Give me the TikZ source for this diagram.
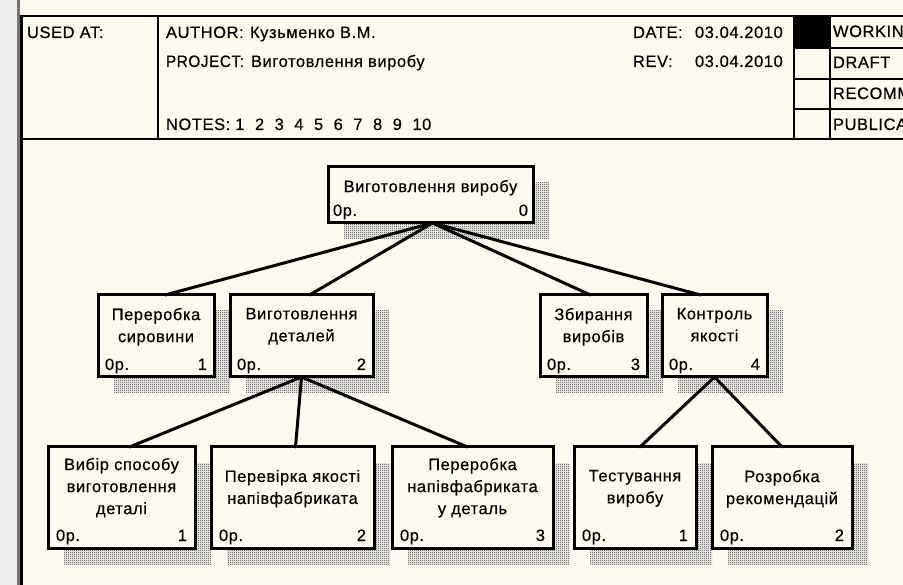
\documentclass[tikz,border=0pt]{standalone}
\usepackage{fontspec}
\setmainfont{Liberation Sans}[LetterSpace=3.5, FakeBold=0.4]
\usetikzlibrary{patterns}

\definecolor{paper}{RGB}{255,250,240}
\definecolor{leftgray}{RGB}{238,238,238}
\definecolor{edgegray}{RGB}{115,115,115}
\definecolor{shadegray}{RGB}{50,50,50}

% fine checkered dither used for the drop shadows
\pgfdeclarepatternformonly{dither}{\pgfqpoint{0pt}{0pt}}{\pgfqpoint{2pt}{2pt}}{\pgfqpoint{2pt}{2pt}}{%
  \pgfpathrectangle{\pgfqpoint{0pt}{0pt}}{\pgfqpoint{1pt}{1pt}}%
  \pgfpathrectangle{\pgfqpoint{1pt}{1pt}}{\pgfqpoint{1pt}{1pt}}%
  \pgfusepath{fill}}

\tikzset{
  actnode/.style={rectangle, draw=black, line width=3pt, fill=paper, inner sep=0pt, outer sep=0pt},
  lbl/.style={inner sep=0pt, outer sep=0pt, text=black, font=\fontsize{16.5}{22}\selectfont},
  link/.style={line width=3pt, line cap=round},
  frame/.style={line width=2pt},
  shadowfill/.style={pattern=dither, pattern color=shadegray},
}

% narrower setting for wide capital labels
\newcommand\narrowcaps[1]{\scalebox{0.93}[1]{#1}}

% #1 name, #2-#5 corners (x1,y1,x2,y2), #6 top of first text line,
% #7 activity name, #8 node number, #9 inset of the corner labels
\newcommand\actbox[9]{%
  \fill[shadowfill] (#2+16,#3+16) rectangle (#4+16,#5+16);
  \node[actnode, minimum width={#4-#2}, minimum height={#5-#3}] (#1) at ({(#2+#4)/2},{(#3+#5)/2}) {};
  \node[lbl, anchor=north, align=center] (#1-name) at ({(#2+#4)/2},#6) {#7};
  \node[lbl, anchor=base west] (#1-cost) at (#2+#9,#5-7) {0р.};
  \node[lbl, anchor=base east] (#1-num) at (#4-#9,#5-7) {#8};
}

\begin{document}
\begin{tikzpicture}[x=1pt,y=-1pt]
\useasboundingbox (0,0) rectangle (903,585);
\clip (0,0) rectangle (903,585);
\fill[paper] (0,0) rectangle (903,585);

% window edge on the left
\fill[leftgray] (0,0) rectangle (17,585);
\fill[edgegray] (17,0) rectangle (20,585);
\draw[line width=2.5pt] (21.25,15) -- (21.25,585);

% title block
\draw[frame] (21,16) -- (910,16);
\draw[frame] (21,139) -- (910,139);
\draw[frame] (158,16) -- (158,139);
\fill[black] (794,16) rectangle (830,48);
\draw[frame] (794,16) -- (794,139);
\draw[frame] (830,16) -- (830,139);
\draw[frame] (794,48) -- (910,48);
\draw[frame] (794,79) -- (910,79);
\draw[frame] (794,109) -- (910,109);

\node[lbl, anchor=base west] (usedat) at (27,38) {USED AT:};
\node[lbl, anchor=base west] (author) at (166,38) {AUTHOR:};
\node[lbl, anchor=base west] (authorval) at (250,38) {Кузьменко В.М.};
\node[lbl, anchor=base west] (project) at (166,67) {\narrowcaps{PROJECT:}};
\node[lbl, anchor=base west] (projectval) at (251,67) {Виготовлення виробу};
\node[lbl, anchor=base west] (notes) at (166,130) {\spaceskip=10.5pt NOTES:\hspace{5pt}1 2 3 4 5 6 7 8 9 10};
\node[lbl, anchor=base west] (date) at (633,38) {DATE:};
\node[lbl, anchor=base west] (dateval) at (695,38) {03.04.2010};
\node[lbl, anchor=base west] (rev) at (633,67) {REV:};
\node[lbl, anchor=base west] (revval) at (695,67) {03.04.2010};
\node[lbl, anchor=base west] (working) at (833,37) {WORKING};
\node[lbl, anchor=base west] (draft) at (833,68) {DRAFT};
\node[lbl, anchor=base west] (recomm) at (833,99) {RECOMMENDED};
\node[lbl, anchor=base west] (public) at (833,130) {PUBLICATION};

% activity boxes
\actbox{top}{328}{167}{533}{223}{180}{Виготовлення виробу}{0}{5}
\actbox{c1}{98}{295}{214}{377}{308}{Переробка\\сировини}{1}{7}
\actbox{c2}{230}{295}{373}{377}{308}{Виготовлення\\деталей}{2}{7}
\actbox{c3}{540}{295}{647}{377}{308}{Збирання\\виробів}{3}{7}
\actbox{c4}{662}{295}{767}{377}{308}{Контроль\\якості}{4}{7}
\actbox{d1}{48}{447}{195}{548}{458}{Вибір способу\\виготовлення\\деталі}{1}{8}
\actbox{d2}{211}{447}{374}{548}{470}{Перевірка якості\\напівфабриката}{2}{8}
\actbox{d3}{392}{447}{553}{548}{458}{Переробка\\напівфабриката\\у деталь}{3}{8}
\actbox{d4}{574}{447}{696}{548}{470}{Тестування\\виробу}{1}{8}
\actbox{d5}{712}{447}{852}{548}{470}{Розробка\\рекомендацій}{2}{8}

% decomposition links
\draw[link] ([xshift=2]top.south) -- ([xshift=9]c1.north);
\draw[link] ([xshift=2]top.south) -- ([xshift=8]c2.north);
\draw[link] ([xshift=2]top.south) -- ([xshift=-3]c3.north);
\draw[link] ([xshift=2]top.south) -- ([xshift=-14]c4.north);
\draw[link] (c2.south) -- ([xshift=8]d1.north);
\draw[link] (c2.south) -- ([xshift=3]d2.north);
\draw[link] (c2.south) -- ([xshift=-5]d3.north);
\draw[link] (c4.south) -- ([xshift=5]d4.north);
\draw[link] (c4.south) -- (d5.north);
\end{tikzpicture}
\end{document}
